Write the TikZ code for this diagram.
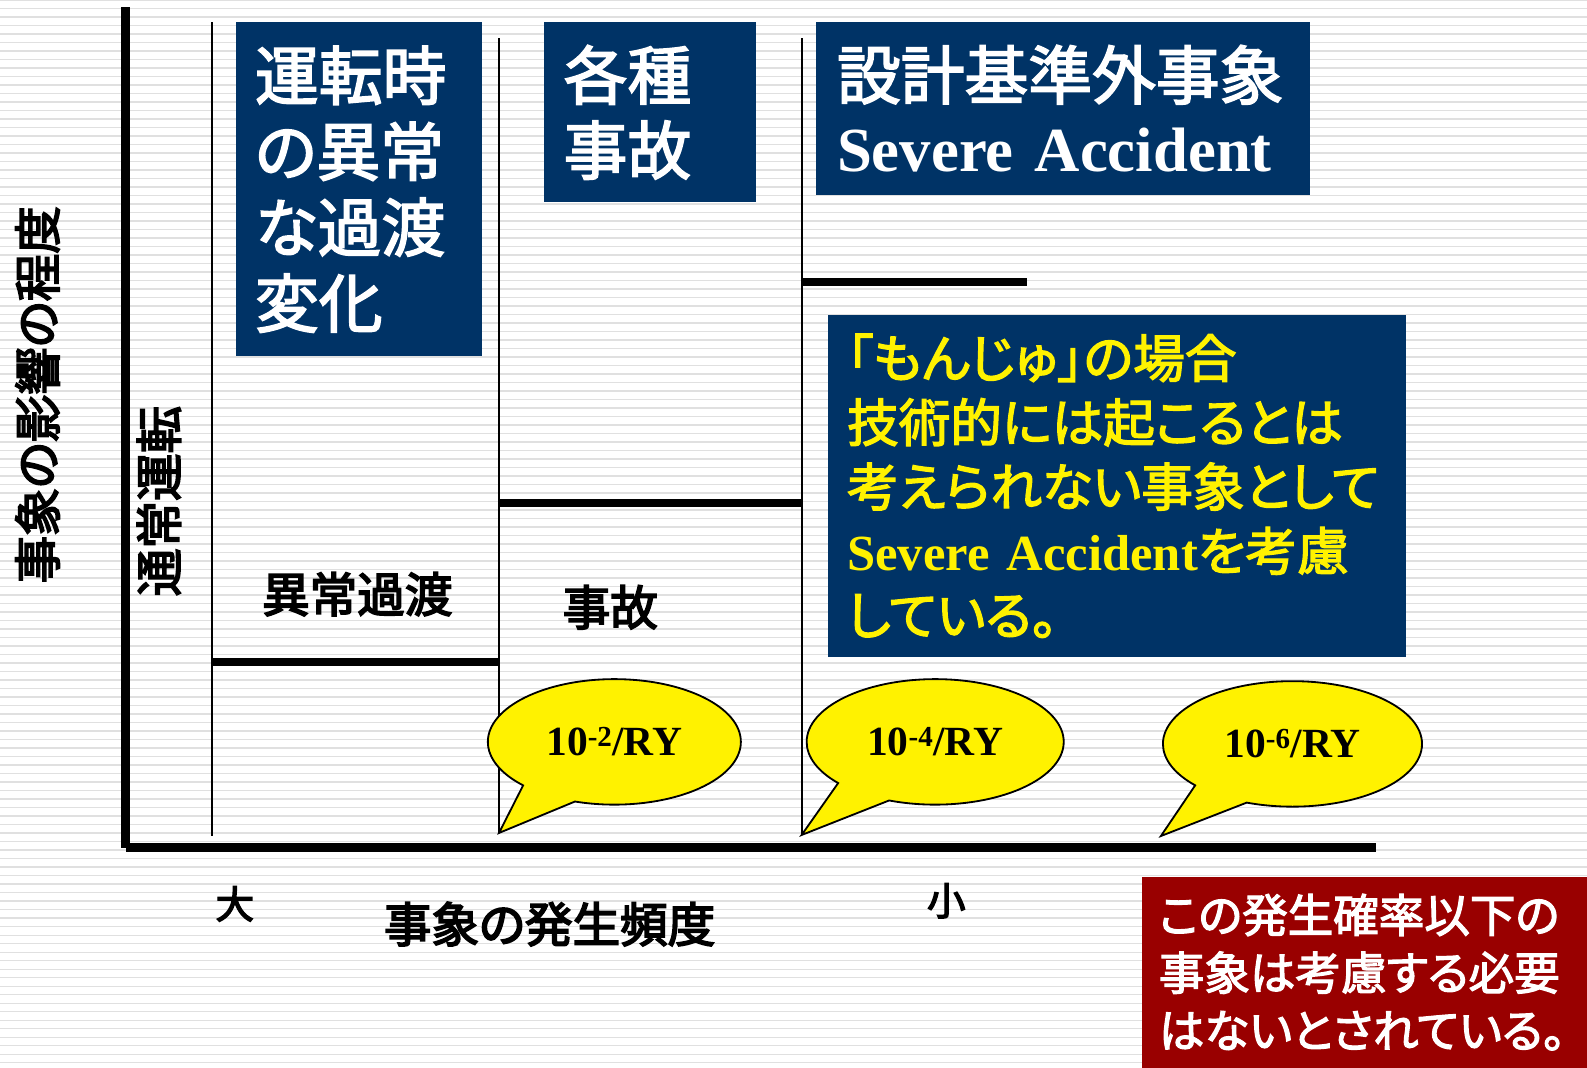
\documentclass[tikz,border=0pt]{standalone}
\usepackage{fontspec}
\setmainfont{Liberation Serif}
\newfontfamily\jp[RawFeature=+palt, FakeBold=2.6]{Noto Sans CJK JP}
\newfontfamily\jpl[RawFeature=+palt, FakeBold=3.6]{Noto Sans CJK JP}
\usetikzlibrary{shapes.callouts}
\definecolor{navy}{HTML}{003366}
\definecolor{boxred}{HTML}{990000}
\definecolor{stripegray}{HTML}{E0E0E0}
\tikzset{
  stripe/.style={draw=stripegray, line width=1.4pt},
  axisline/.style={line width=9pt},
  hbar/.style={line width=8pt},
  vline/.style={line width=2pt},
  navybox/.style={fill=navy, inner sep=0pt, align=left, text=white},
  bubble/.style={ellipse callout, draw=black, line width=1.8pt, fill=yellow,
    inner sep=0pt, callout pointer arc=28,
    font=\bfseries\fontsize{41}{41}\selectfont},
  lab/.style={font=\jpl\fontsize{47}{47}\selectfont, inner sep=0pt},
  small/.style={font=\jpl\fontsize{38}{38}\selectfont, inner sep=0pt}
}
\begin{document}
\begin{tikzpicture}[x=1pt,y=-1pt]
\useasboundingbox (0,0) rectangle (1568,1055);
\fill[white] (0,0) rectangle (1568,1055);
\foreach \k in {0,...,126} { \draw[stripe] (0,{8.4*\k}) -- (1568,{8.4*\k}); }

% coordinates
\coordinate (ytop) at (124,7);
\coordinate (orig) at (124,837.5);
\coordinate (xend) at (1360,837.5);
\coordinate (l1t) at (209,22);
\coordinate (l1b) at (209,826);
\coordinate (l2t) at (493,38);
\coordinate (l2b) at (493,823);
\coordinate (l3t) at (792,38);
\coordinate (l3b) at (792,825);
\coordinate (h1a) at (209,654);
\coordinate (h1b) at (493,654);
\coordinate (h2a) at (493,497);
\coordinate (h2b) at (792,497);
\coordinate (h3a) at (792,279);
\coordinate (h3b) at (1015,279);
\coordinate (tip3) at (1147,826);

% lines
\draw[vline] (l1t) -- (l1b);
\draw[vline] (l2t) -- (l2b);
\draw[vline] (l3t) -- (l3b);
\draw[hbar] (h1a) -- (h1b);
\draw[hbar] (h2a) -- (h2b);
\draw[hbar] (h3a) -- (h3b);
\draw[axisline] (ytop) -- (orig);
\draw[axisline] (orig) -- (xend);

% boxes
\node[navybox, minimum width=243pt, minimum height=330pt, text width=205pt,
  font=\jp\fontsize{63}{75}\selectfont] (boxA) at (354.5,187)
  {運転時\\の異常\\な過渡\\変化};
\node[navybox, minimum width=210pt, minimum height=178pt, text width=170pt,
  font=\jp\fontsize{63}{74}\selectfont] (boxB) at (642,111)
  {各種\\事故};
\node[navybox, minimum width=488pt, minimum height=171pt, text width=446pt,
  font=\fontsize{63}{72}\selectfont] (boxC) at (1050,107.5)
  {{\jp 設計基準外事象}\\{\fontsize{62}{72}\selectfont\bfseries Severe Accident}};
\node[navybox, text=yellow, minimum width=571pt, minimum height=338pt, text width=533pt,
  font=\fontsize{51}{63.5}\selectfont] (boxD) at (1103.5,480)
  {{\jp 「もんじゅ」の場合}\\{\jp 技術的には起こるとは}\\{\jp 考えられない事象として}\\{\fontsize{50}{63.5}\selectfont\bfseries Severe Accident}{\jp を考慮}\\{\jp している。}};
\node[fill=boxred, inner sep=0pt, align=left, text=white, minimum width=440pt,
  minimum height=189pt, text width=406pt, font=\jp\fontsize{45}{57}\selectfont] (boxE) at (1348,960.5)
  {この発生確率以下の\\事象は考慮する必要\\はないとされている。};

% bubbles
\node[bubble, minimum width=250pt, minimum height=124pt, callout absolute pointer=(l2b)] (b1) at (607,733) {10\textsuperscript{-2}/RY};
\node[bubble, minimum width=254pt, minimum height=124pt, callout absolute pointer=(l3b)] (b2) at (924,733) {10\textsuperscript{-4}/RY};
\node[bubble, minimum width=256pt, minimum height=124pt, callout absolute pointer=(tip3)] (b3) at (1277,735) {10\textsuperscript{-6}/RY};

% labels
\node[lab] (ijou) at (353,587) {異常過渡};
\node[lab] (jiko) at (603,600) {事故};
\node[lab] (freq) at (543,913) {事象の発生頻度};
\node[small] (dai) at (232,893) {大};
\node[small] (sho) at (935,890) {小};
\node[lab, rotate=90] (eikyo) at (37,390) {事象の影響の程度};
\node[lab, rotate=90] (tsujo) at (157,495) {通常運転};
\end{tikzpicture}
\end{document}
